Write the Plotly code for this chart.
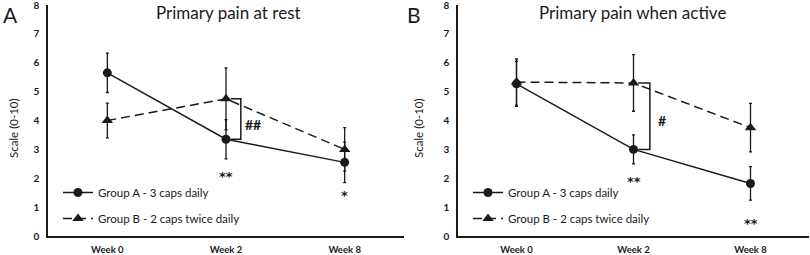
import plotly.graph_objects as go

weeks = ["Week 0", "Week 2", "Week 8"]
xpos = [0, 1, 2]
ticks_y = [0, 1, 2, 3, 4, 5, 6, 7, 8]

rest_a = [5.65, 3.35, 2.55]
rest_a_err = [0.68, 0.68, 0.70]
rest_b = [4.0, 4.75, 3.0]
rest_b_err = [0.6, 1.07, 0.75]

active_a = [5.27, 3.0, 1.82]
active_a_err = [0.78, 0.5, 0.58]
active_b = [5.33, 5.3, 3.75]
active_b_err = [0.8, 0.98, 0.84]

name_a = "Group A - 3 caps daily"
name_b = "Group B - 2 caps twice daily"

FONT = "Lato"
INK = "#1a1a1a"

fig = go.Figure()

def add_pair(va, ea, vb, eb, xa, ya, leg):
    fig.add_trace(go.Scatter(
        x=xpos, y=vb, name=name_b, mode="lines+markers",
        line=dict(color=INK, width=1.5, dash="9px,5px"),
        marker=dict(symbol="triangle-up", size=10, color=INK),
        error_y=dict(type="data", array=eb, color=INK, thickness=1.3, width=1.5),
        xaxis=xa, yaxis=ya, legend=leg, legendgroup=leg + "b", legendrank=2,
    ))
    fig.add_trace(go.Scatter(
        x=xpos, y=va, name=name_a, mode="lines+markers",
        line=dict(color=INK, width=1.5),
        marker=dict(symbol="circle", size=9, color=INK),
        error_y=dict(type="data", array=ea, color=INK, thickness=1.3, width=1.5),
        xaxis=xa, yaxis=ya, legend=leg, legendgroup=leg + "a", legendrank=1,
    ))

add_pair(rest_a, rest_a_err, rest_b, rest_b_err, "x", "y", "legend")
add_pair(active_a, active_a_err, active_b, active_b_err, "x2", "y2", "legend2")

ax_common = dict(
    range=[-0.5, 2.5], tickvals=xpos, ticktext=weeks, showgrid=False, zeroline=False,
    showline=True, linecolor=INK, linewidth=1.5, ticks="outside", ticklen=4,
    tickcolor="rgba(0,0,0,0)", ticklabeloverflow="allow", automargin=False,
    tickfont=dict(family=FONT, size=9.5, color=INK, weight="bold"),
)
ay_common = dict(
    range=[0, 8], tickvals=ticks_y, showgrid=False, zeroline=False,
    showline=True, linecolor=INK, linewidth=1.5, ticks="outside", ticklen=5,
    tickcolor="rgba(0,0,0,0)", ticklabeloverflow="allow", automargin=False,
    tickfont=dict(family=FONT, size=10, color=INK, weight="bold"),
)

y0 = 1 - 236 / 255
y1 = 1 - 5 / 255
leg_common = dict(xanchor="left", yanchor="top", bgcolor="rgba(0,0,0,0)",
                  font=dict(family=FONT, size=11.5, color=INK),
                  tracegroupgap=7, traceorder="grouped")
fig.update_layout(
    width=810, height=255, margin=dict(l=0, r=0, t=0, b=0, autoexpand=False),
    paper_bgcolor="white", plot_bgcolor="white",
    font=dict(family=FONT, color=INK),
    xaxis=dict(domain=[48 / 810, 404 / 810], anchor="y", **ax_common),
    yaxis=dict(domain=[y0, y1], anchor="x", **ay_common),
    xaxis2=dict(domain=[458 / 810, 809 / 810], anchor="y2", **ax_common),
    yaxis2=dict(domain=[y0, y1], anchor="x2", **ay_common),
    legend=dict(x=58 / 810, y=1 - 178 / 255, **leg_common),
    legend2=dict(x=468 / 810, y=1 - 178 / 255, **leg_common),
    showlegend=True,
)

# panel letters, titles, axis titles
for px, letter in [(10, "A"), (414, "B")]:
    fig.add_annotation(text=letter, x=px / 810, y=1 - 14 / 255, xref="paper", yref="paper",
                       xanchor="center", yanchor="middle",
                       showarrow=False, font=dict(family=FONT, size=21, color=INK))
for px, title in [(228, "Primary pain at rest"), (632, "Primary pain when active")]:
    fig.add_annotation(text=title, x=px / 810, y=1 - 12 / 255, xref="paper", yref="paper",
                       xanchor="center", yanchor="middle",
                       showarrow=False, font=dict(family=FONT, size=17, color=INK))
for px in [13, 418]:
    fig.add_annotation(text="Scale (0-10)", x=px / 810, y=1 - 128 / 255, xref="paper", yref="paper",
                       xanchor="center", yanchor="middle",
                       showarrow=False, textangle=-90, font=dict(family=FONT, size=11.5, color=INK))

# brackets between groups at week 2
def bracket(xr, yr, top, bottom, off):
    fig.add_shape(type="path", xref=xr, yref=yr,
                  path=f"M {1 + 0.04} {top} L {1 + off} {top} L {1 + off} {bottom} L {1 + 0.04} {bottom}",
                  line=dict(color=INK, width=1.5))

bracket("x", "y", rest_b[1], rest_a[1], 0.125)
bracket("x2", "y2", active_b[1], active_a[1], 0.14)

sig_font = dict(family="DejaVu Sans", size=13, color=INK, weight="bold")
hash_font = dict(family=FONT, size=14, color=INK, weight="bold")
fig.add_annotation(text="##", x=1.23, y=3.85, xref="x", yref="y", showarrow=False, font=hash_font)
fig.add_annotation(text="**", x=1, y=2.05, xref="x", yref="y", showarrow=False, font=sig_font)
fig.add_annotation(text="*", x=2, y=1.4, xref="x", yref="y", showarrow=False, font=sig_font)
fig.add_annotation(text="#", x=1.24, y=4.0, xref="x2", yref="y2", showarrow=False, font=hash_font)
fig.add_annotation(text="**", x=1, y=1.9, xref="x2", yref="y2", showarrow=False, font=sig_font)
fig.add_annotation(text="**", x=2, y=0.45, xref="x2", yref="y2", showarrow=False, font=sig_font)

fig.write_html("out.html", config={"displayModeBar": False},
               post_script="document.body.style.margin='0';")
